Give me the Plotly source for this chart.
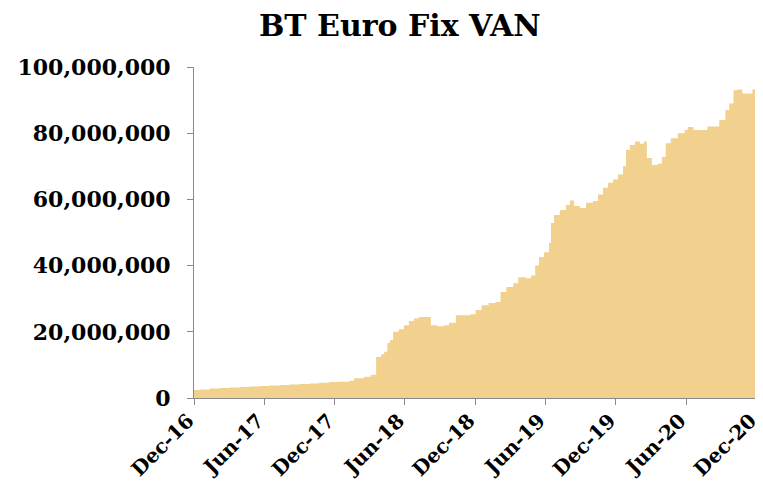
import plotly.graph_objects as go

dates = [
    "2016-12-01", "2016-12-16", "2017-01-11", "2017-02-06", "2017-03-04", "2017-03-30",
    "2017-04-24", "2017-05-20", "2017-06-15", "2017-07-11", "2017-08-06", "2017-09-01",
    "2017-09-27", "2017-10-22", "2017-11-17", "2017-12-13", "2018-01-08", "2018-01-21",
    "2018-02-16", "2018-03-06", "2018-03-16", "2018-03-19", "2018-04-01", "2018-04-09",
    "2018-04-17", "2018-04-24", "2018-05-02", "2018-05-17", "2018-05-30", "2018-06-12",
    "2018-06-25", "2018-07-08", "2018-07-29", "2018-08-08", "2018-08-24", "2018-09-11",
    "2018-09-24", "2018-10-12", "2018-11-01", "2018-11-19", "2018-12-02", "2018-12-18",
    "2019-01-05", "2019-01-23", "2019-02-05", "2019-02-20", "2019-03-10", "2019-03-23",
    "2019-04-12", "2019-04-25", "2019-05-06", "2019-05-16", "2019-05-29", "2019-06-11",
    "2019-06-16", "2019-06-24", "2019-07-09", "2019-07-25", "2019-08-04", "2019-08-15",
    "2019-08-30", "2019-09-15", "2019-10-03", "2019-10-16", "2019-10-29", "2019-11-11",
    "2019-11-24", "2019-12-07", "2019-12-20", "2019-12-28", "2020-01-07", "2020-01-20",
    "2020-02-02", "2020-02-12", "2020-02-20", "2020-03-04", "2020-03-19", "2020-03-30",
    "2020-04-09", "2020-04-22", "2020-05-10", "2020-05-28", "2020-06-05", "2020-06-20",
    "2020-07-08", "2020-07-26", "2020-08-13", "2020-08-26", "2020-09-11", "2020-09-21",
    "2020-10-02", "2020-10-12", "2020-10-25", "2020-11-07", "2020-11-20", "2020-12-01",
]

van_millions = [
    2.4, 2.6, 2.9, 3.0, 3.2, 3.3,
    3.5, 3.6, 3.8, 3.9, 4.1, 4.2,
    4.4, 4.6, 4.8, 4.9, 5.2, 6.0,
    6.4, 7.0, 7.0, 12.4, 13.2, 14.0,
    16.6, 17.5, 20.0, 20.8, 22.0, 23.3,
    24.0, 24.5, 24.5, 22.0, 21.7, 22.0,
    22.7, 25.0, 25.0, 25.3, 26.6, 28.0,
    28.7, 29.0, 32.0, 33.5, 34.7, 36.5,
    36.2, 37.0, 40.0, 42.6, 44.0, 46.8,
    52.9, 55.3, 56.8, 58.3, 59.7, 58.0,
    57.4, 59.0, 59.5, 61.5, 63.5, 65.0,
    66.0, 67.5, 70.0, 75.0, 76.4, 77.5,
    76.8, 77.5, 72.5, 70.4, 70.8, 72.8,
    77.0, 78.5, 80.0, 81.0, 81.9, 81.0,
    81.0, 82.0, 82.0, 84.0, 87.0, 89.0,
    93.0, 93.2, 92.0, 92.0, 93.2, 94.0,
]

tick_dates = ["2016-12-01", "2017-06-01", "2017-12-01", "2018-06-01", "2018-12-01",
              "2019-06-01", "2019-12-01", "2020-06-01", "2020-12-01"]
tick_labels = ["Dec-16", "Jun-17", "Dec-17", "Jun-18", "Dec-18",
               "Jun-19", "Dec-19", "Jun-20", "Dec-20"]
y_ticks = [0, 20_000_000, 40_000_000, 60_000_000, 80_000_000, 100_000_000]

values = [v * 1_000_000 for v in van_millions]

FONT = "DejaVu Serif"

fig = go.Figure()
fig.add_trace(go.Scatter(
    x=dates, y=values, mode="lines", line=dict(width=0, shape="hv"),
    fill="tozeroy", fillcolor="#F2D08D", hoverinfo="skip", showlegend=False,
))

# page body has an 8px margin, so the figure is offset by (8, 8)
fig.update_layout(
    width=755, height=474,
    margin=dict(l=186, r=6, t=59, b=84),
    paper_bgcolor="white", plot_bgcolor="white",
    title=dict(text="<b>BT Euro Fix VAN</b>", x=0.519, xanchor="center", y=0.964, yanchor="middle",
               xref="container", yref="container",
               font=dict(family=FONT, size=30, color="black")),
    font=dict(family=FONT, color="black"),
)
fig.update_xaxes(
    type="date", range=["2016-12-01", "2020-12-02"],
    tickvals=tick_dates, ticktext=[f"<b>{t}</b>" for t in tick_labels],
    tickangle=-45, tickfont=dict(family=FONT, size=20, color="black"),
    ticklabeloverflow="allow", ticklabelshift=-6, ticklabelstandoff=-4,
    showline=True, linecolor="#8a8a8a", linewidth=1,
    ticks="outside", ticklen=6, tickcolor="#8a8a8a",
    showgrid=False, zeroline=False, automargin=False,
)
fig.update_yaxes(
    range=[0, 100_000_000], tickvals=y_ticks,
    ticktext=[f"<b>{v:,}</b>" for v in y_ticks],
    tickfont=dict(family=FONT, size=22, color="black"),
    showline=True, linecolor="#8a8a8a", linewidth=1,
    ticks="outside", ticklen=6, tickcolor="#8a8a8a", ticklabelstandoff=12,
    showgrid=False, zeroline=False, automargin=False,
)

fig.write_html("out.html")
